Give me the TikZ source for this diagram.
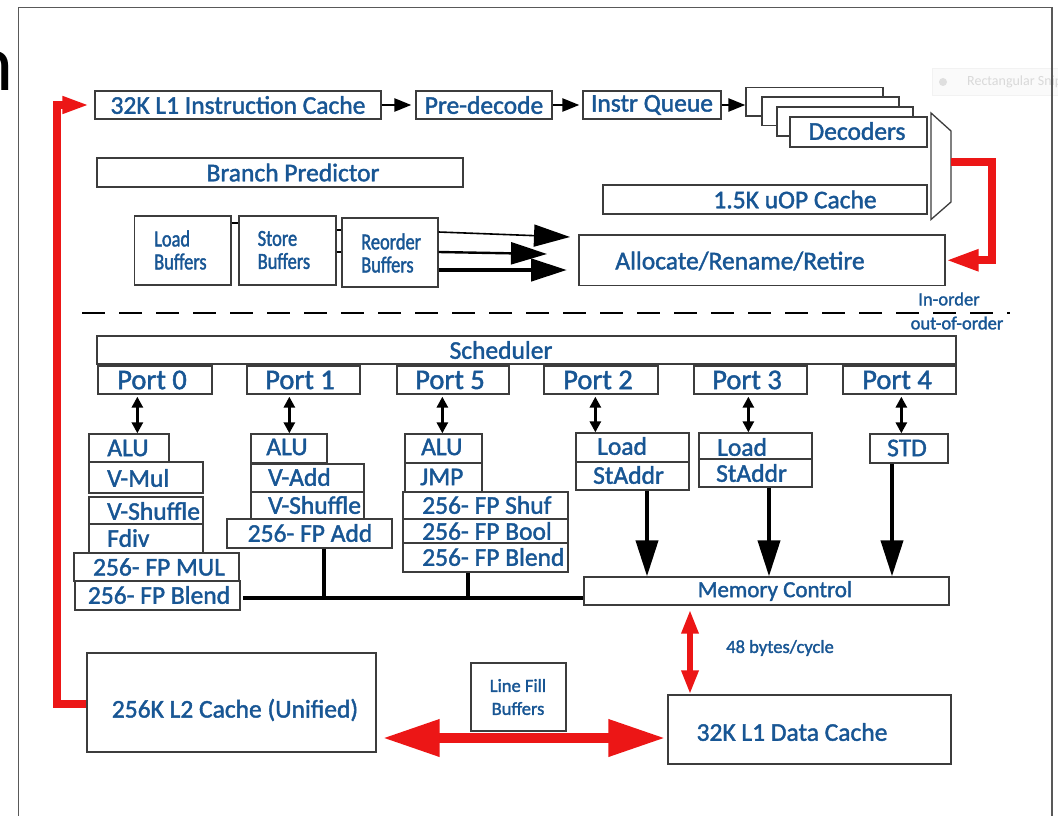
\documentclass[tikz,border=0pt]{standalone}
\usepackage{fontspec}
\setmainfont{Carlito}[FakeBold=1.6]
\newfontfamily\plainfont{Carlito}
\newfontfamily\condfont{Carlito}[FakeStretch=0.8, FakeBold=1.6]
\usetikzlibrary{arrows.meta,fit}
\definecolor{intel}{RGB}{24,86,148}
\definecolor{boxc}{RGB}{60,60,60}
\definecolor{redc}{RGB}{236,22,22}
\newcommand\fs[1]{\fontsize{#1}{#1}\selectfont}
\newcommand\bx[5]{\node[box, fit={(#2,#3)(#4,#5)}] (#1) {};}
\newcommand\lb[4][]{\node[lbl,#1] (#2) at (#3) {#4};}
\begin{document}
\begin{tikzpicture}[x=1pt,y=-1pt,
  box/.style={draw=boxc, line width=1.3pt, fill=white, inner sep=0pt},
  lbl/.style={text=intel, inner sep=0pt, font=\fs{25.5}},
  sm/.style={lbl, font={\fontsize{18.5}{23}\selectfont}, align=left},
  buf/.style={lbl, font={\condfont\fontsize{23}{23}\selectfont}, align=left, anchor=west},
  conn/.style={draw=black, line width=2pt},
  smallarr/.style={draw=black, line width=2.5pt, -{Triangle[length=17pt,width=13pt]}},
  bigarr/.style={draw=black, -{Triangle[length=36pt,width=22pt]}},
  dblarr/.style={draw=black, line width=3.5pt, {Triangle[length=11pt,width=11pt]}-{Triangle[length=11pt,width=11pt]}},
  bus/.style={draw=black, line width=4pt},
  redline/.style={draw=redc, line width=8pt, line join=miter},
  reddbl/.style={draw=redc, line width=10pt, {Triangle[length=57pt,width=35pt]}-{Triangle[length=57pt,width=35pt]}},
  redv/.style={draw=redc, line width=6pt, {Triangle[length=24pt,width=16pt]}-{Triangle[length=24pt,width=16pt]}}
]
\useasboundingbox (0,0) rectangle (1058,816);
\clip (0,0) rectangle (1058,816);
\fill[white] (0,0) rectangle (1058,816);

% fragment and watermark
\node[anchor=base east, inner sep=0pt, font=\plainfont\fs{80}] (nfrag) at (14,91) {n};
\node[fill=gray!4, draw=gray!10, minimum width=130, minimum height=27, anchor=west, inner sep=0pt] (snip) at (932,82) {};
\fill[gray!25] (943,82) circle (4);
\node[text=gray!30, font=\plainfont\fs{14}, anchor=west, inner sep=0pt] (sniptxt) at (967,82) {Rectangular Snip};

% frame
\draw[draw=gray!70!black, line width=1.3pt] (18.5,7.5) rectangle (1052,830);

% front end
\bx{l1i}{95}{91}{381}{119}
\lb{tl1i}{238,105}{32K L1 Instruction Cache}
\bx{pre}{416}{91}{552}{119}
\lb{tpre}{484,105}{Pre-decode}
\bx{iq}{583}{91}{721}{119}
\lb{tiq}{652,105}{Instr Queue}
\bx{dA}{746}{87.5}{883}{116}
\bx{dB}{762}{97}{899}{125.6}
\bx{dC}{777}{107}{913}{136}
\bx{dec}{790}{117}{927}{147}
\lb{tdec}{857,131}{Decoders}
\bx{uop}{603}{185}{927}{214}
\lb{tuop}{795,199.5}{1.5K uOP Cache}
\draw[box] (931,113) -- (951,131) -- (951,202) -- (931,219.5) -- cycle;
\coordinate (muxout) at (951,161.6);
\coordinate (rc) at (992,161.6);

\bx{bp}{97}{158}{463}{187}
\lb{tbp}{293,172.5}{Branch Predictor}
\bx{alloc}{579}{235}{945}{285.5}
\lb{talloc}{740,261}{Allocate/Rename/Retire}

\bx{lb}{134.5}{216}{231}{285}
\node[buf] (tlb) at (154,250) {Load\\Buffers};
\bx{sb}{239}{216}{336}{285}
\node[buf] (tsb) at (257.5,250) {Store\\Buffers};
\bx{reo}{342}{218}{438}{287}
\node[buf] (treo) at (361,253) {Reorder\\Buffers};

\draw[conn] ([yshift=27.5pt]lb.east) -- ([yshift=27.5pt]sb.west);
\draw[conn] ([yshift=20.5pt]sb.east) -- ([yshift=22.5pt]reo.west);
\draw[conn] ([yshift=-1.5pt]sb.east) -- ([yshift=0.5pt]reo.west);

\coordinate (a1e) at (570,237);
\coordinate (a2e) at (547,254);
\coordinate (a3e) at (567,270);
\draw[bigarr, line width=1.6pt] ([yshift=20.5pt]reo.east) -- (a1e);
\draw[bigarr, line width=2.4pt] ([yshift=0.5pt]reo.east) -- (a2e);
\draw[bigarr, line width=4.5pt] ([yshift=-17.5pt]reo.east) -- (a3e);

\draw[smallarr, shorten >=4pt] (l1i.east) -- (pre.west);
\draw[smallarr, shorten >=3pt] (pre.east) -- (iq.west);
\draw[smallarr] (iq.east) -- (dA.west |- iq.east);

\draw[redline, -{Triangle[length=33pt,width=20pt]}] (muxout) -- (rc) |- (alloc.east);

% separator
\draw[black, line width=1.5pt, dash pattern=on 23pt off 14pt] (82,313) -- (1010,313);
\node[sm] (tin) at (949,299) {In-order};
\node[sm] (tout) at (957,323) {out-of-order};

% scheduler and ports
\bx{sched}{97}{336}{956}{364}
\lb{tsched}{501,350}{Scheduler}
\bx{p0}{98}{366}{212}{394}
\bx{p1}{247}{366}{360}{394}
\bx{p5}{397}{366}{509}{394}
\bx{p2}{544}{366}{658}{394}
\bx{p3}{694}{366}{807}{394}
\bx{p4}{843}{366}{956}{394}
\lb[font=\fs{28.5}]{tp0}{152,380}{Port 0}
\lb[font=\fs{28.5}]{tp1}{300,380}{Port 1}
\lb[font=\fs{28.5}]{tp5}{450,380}{Port 5}
\lb[font=\fs{28.5}]{tp2}{598,380}{Port 2}
\lb[font=\fs{28.5}]{tp3}{747,380}{Port 3}
\lb[font=\fs{28.5}]{tp4}{897,380}{Port 4}

% port 0 units
\bx{alu0}{89}{434}{169}{462}
\bx{vmul}{89}{462}{203}{493}
\bx{vsh0}{89}{497}{203}{524}
\bx{fdiv}{89}{524}{203}{553}
\bx{fpmul}{74}{553}{239}{581}
\bx{fpbl0}{75}{581}{240}{610}
\lb{talu0}{128,448}{ALU}
\lb[anchor=west]{tvmul}{107,478}{V-Mul}
\lb[anchor=west]{tvsh0}{107,511}{V-Shuffle}
\lb[anchor=west]{tfdiv}{107,538}{Fdiv}
\lb{tfpmul}{159,567}{256- FP MUL}
\lb{tfpbl0}{159,595}{256- FP Blend}

% port 1 units
\bx{alu1}{251}{434}{327}{463}
\bx{vadd}{251}{464}{364}{492}
\bx{vsh1}{251}{492}{364}{519}
\bx{fpadd}{227}{519}{392}{548}
\lb{talu1}{287,447}{ALU}
\lb[anchor=west]{tvadd}{268,477}{V-Add}
\lb[anchor=west]{tvsh1}{268,505}{V-Shuffle}
\lb{tfpadd}{310,533}{256- FP Add}

% port 5 units
\bx{alu5}{405}{434}{482}{463}
\bx{jmp}{405}{463}{482}{492}
\bx{fpshuf}{403}{492}{568}{519}
\bx{fpbool}{403}{519}{568}{543}
\bx{fpbl5}{403}{543}{568}{572}
\lb[anchor=west]{talu5}{421,447}{ALU}
\lb[anchor=west]{tjmp}{420,477}{JMP}
\lb[anchor=west]{tfpshuf}{422,505}{256- FP Shuf}
\lb[anchor=west]{tfpbool}{422,531}{256- FP Bool}
\lb[anchor=west]{tfpbl5}{422,557}{256- FP Blend}

% port 2,3,4 units
\bx{ld2}{576}{433}{689}{462}
\bx{sa2}{576}{462}{689}{490}
\lb[anchor=west]{tld2}{597,446}{Load}
\lb[anchor=west]{tsa2}{593,475}{StAddr}
\bx{ld3}{699}{433}{812}{459}
\bx{sa3}{699}{459}{812}{487}
\lb[anchor=west]{tld3}{717,447}{Load}
\lb[anchor=west]{tsa3}{716,473}{StAddr}
\bx{std}{870}{434}{948}{463}
\lb{tstd}{907,448}{STD}

% port arrows
\draw[dblarr] ([xshift=40pt,yshift=-2pt]p0.south west) coordinate (d0) -- (d0 |- alu0.north);
\draw[dblarr] ([xshift=43pt,yshift=-2pt]p1.south west) coordinate (d1) -- (d1 |- alu1.north);
\draw[dblarr] ([xshift=46pt,yshift=-2pt]p5.south west) coordinate (d5) -- (d5 |- alu5.north);
\draw[dblarr] ([xshift=52pt,yshift=-2pt]p2.south west) coordinate (d2) -- (d2 |- ld2.north);
\draw[dblarr] ([xshift=55pt,yshift=-2pt]p3.south west) coordinate (d3) -- (d3 |- ld3.north);
\draw[dblarr] ([xshift=59pt,yshift=-2pt]p4.south west) coordinate (d4) -- (d4 |- std.north);

% memory control
\bx{mc}{584}{577}{949}{605}
\lb[font=\fs{23}]{tmc}{775,591}{Memory Control}
\draw[bigarr, line width=4pt] ([xshift=14.5pt]sa2.south) coordinate (m2) -- (m2 |- mc.north);
\draw[bigarr, line width=4pt] ([xshift=13.5pt]sa3.south) coordinate (m3) -- (m3 |- mc.north);
\draw[bigarr, line width=4pt] ([xshift=-17pt]std.south) coordinate (m4) -- (m4 |- mc.north);

\coordinate (busL) at (243,598);
\draw[bus] (busL) -- (mc.west |- busL);
\draw[bus] ([xshift=14.5pt]fpadd.south) coordinate (v1) -- (v1 |- busL);
\draw[bus] ([xshift=-17.5pt]fpbl5.south) coordinate (v2) -- (v2 |- busL);

% bottom
\bx{l2}{87}{653}{376}{752}
\lb{tl2}{235,710}{256K L2 Cache (Unified)}
\bx{lfb}{471}{663}{566}{731}
\node[sm, align=center] (tlfb) at (518,697) {Line Fill\\Buffers};
\bx{l1d}{668}{695}{951}{764}
\lb{tl1d}{792,732}{32K L1 Data Cache}
\draw[reddbl] ([xshift=6pt,yshift=-35.5pt]l2.east) -- ([xshift=-2pt,yshift=-8.5pt]l1d.west);
\draw[redv] ([xshift=-76.5pt,yshift=-4pt]mc.south) coordinate (rv) -- (rv |- l1d.north);
\node[sm] (tbw) at (780,648) {48 bytes/cycle};

\coordinate (lc) at (57,704);
\draw[redline, -{Triangle[length=27pt,width=16pt]}] ([yshift=-1.5pt]l2.west) -- (lc) |- ([xshift=-5pt]l1i.west);

\end{tikzpicture}
\end{document}
